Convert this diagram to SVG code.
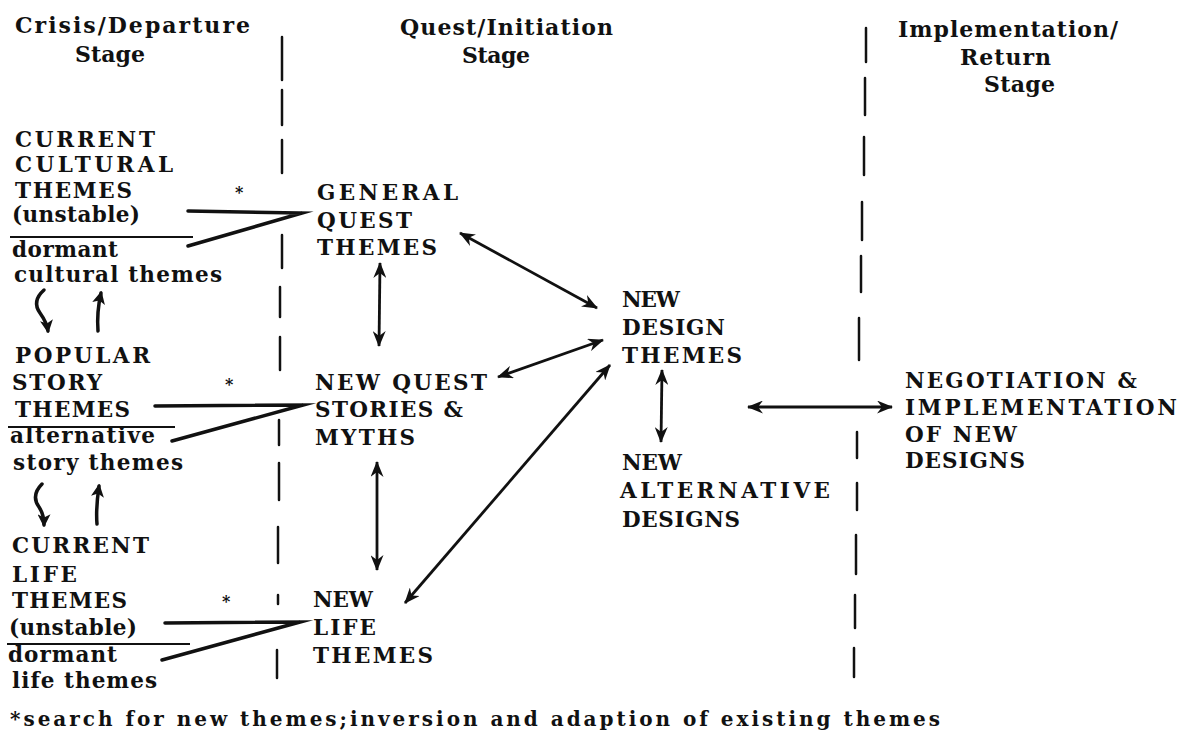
<svg xmlns="http://www.w3.org/2000/svg" width="1200" height="749" viewBox="0 0 1200 749">
<style>
  .bg { fill: #ffffff; }
  text { font-family: "DejaVu Serif", "Liberation Serif", serif; fill: #111; }
  .hd { font-size: 22px; font-weight: bold; }
  .tx { font-size: 21.5px; font-weight: bold; }
  .fn { font-size: 20px; font-weight: bold; }
  .ast { font-size: 16px; font-weight: bold; }
  .div { stroke: #111; stroke-width: 2.5; fill: none; stroke-linecap: round; }
  .rule { stroke: #111; stroke-width: 2.2; fill: none; }
  .fork { stroke: #111; stroke-width: 3.5; fill: none; stroke-linejoin: miter; stroke-miterlimit: 20; stroke-linecap: round; }
  .arr { stroke: #111; stroke-width: 2.8; fill: none; marker-start: url(#ah); marker-end: url(#ah); }
  .curl { stroke: #111; stroke-width: 3.5; fill: none; marker-end: url(#ah2); stroke-linecap: round; }
</style>
<defs>
  <marker id="ah" viewBox="0 0 16 13" refX="15" refY="6.5" markerWidth="17" markerHeight="13" markerUnits="userSpaceOnUse" orient="auto-start-reverse">
    <path d="M0,0 L16,6.5 L0,13 L5,6.5 z" fill="#111"/>
  </marker>
  <marker id="ah2" viewBox="0 0 12 12" refX="10" refY="6" markerWidth="13" markerHeight="13" markerUnits="userSpaceOnUse" orient="auto">
    <path d="M0,0 L12,6 L0,12 L3,6 z" fill="#111"/>
  </marker>
</defs>
<rect class="bg" x="0" y="0" width="1200" height="749"/>

<g id="stage-dividers">
  <path class="div" d="M282,37 V80 M282,90 V125 M282,140 V173 M282,235 V268 M280,287 V317 M280,337 V370 M279,420 V445 M279,463 V500 M278,527 V563 M278,595 V604 M277,650 V678"/>
  <path class="div" d="M866,28 V62 M865,78 V115 M864,137 V175 M862,202 V240 M861,256 V292 M859,318 V360 M857,432 V458 M857,483 V510 M856,535 V574 M855,595 V628 M854,648 V677"/>
</g>

<g id="heading-crisis">
  <text class="hd" x="15" y="33" textLength="235">Crisis/Departure</text>
  <text class="hd" x="75" y="62" textLength="70">Stage</text>
</g>
<g id="heading-quest">
  <text class="hd" x="400" y="35" textLength="213">Quest/Initiation</text>
  <text class="hd" x="462" y="63" textLength="68">Stage</text>
</g>
<g id="heading-implementation">
  <text class="hd" x="898" y="37" textLength="220">Implementation/</text>
  <text class="hd" x="960" y="65" textLength="91">Return</text>
  <text class="hd" x="984" y="92" textLength="71">Stage</text>
</g>

<g id="current-cultural-themes">
  <text class="tx" x="15" y="147" textLength="140">CURRENT</text>
  <text class="tx" x="15" y="172" textLength="158">CULTURAL</text>
  <text class="tx" x="15" y="198" textLength="117">THEMES</text>
  <text class="tx" x="12" y="222" textLength="128">(unstable)</text>
  <line class="rule" x1="10" y1="237" x2="193" y2="237"/>
  <text class="tx" x="12" y="257" textLength="106">dormant</text>
  <text class="tx" x="14" y="282" textLength="208">cultural themes</text>
</g>

<g id="popular-story-themes">
  <text class="tx" x="15" y="363" textLength="135">POPULAR</text>
  <text class="tx" x="12" y="390" textLength="90">STORY</text>
  <text class="tx" x="15" y="417" textLength="115">THEMES</text>
  <line class="rule" x1="8" y1="427" x2="175" y2="427"/>
  <text class="tx" x="10" y="443" textLength="145">alternative</text>
  <text class="tx" x="13" y="470" textLength="170">story themes</text>
</g>

<g id="current-life-themes">
  <text class="tx" x="12" y="553" textLength="137">CURRENT</text>
  <text class="tx" x="12" y="582" textLength="65">LIFE</text>
  <text class="tx" x="12" y="608" textLength="115">THEMES</text>
  <text class="tx" x="9" y="635" textLength="128">(unstable)</text>
  <line class="rule" x1="7" y1="644" x2="190" y2="644"/>
  <text class="tx" x="8" y="662" textLength="109">dormant</text>
  <text class="tx" x="12" y="688" textLength="145">life themes</text>
</g>

<g id="general-quest-themes">
  <text class="tx" x="317" y="200" textLength="141">GENERAL</text>
  <text class="tx" x="317" y="228" textLength="95">QUEST</text>
  <text class="tx" x="317" y="255" textLength="120">THEMES</text>
</g>

<g id="new-quest-stories">
  <text class="tx" x="315" y="390" textLength="172">NEW QUEST</text>
  <text class="tx" x="315" y="417" textLength="148">STORIES &amp;</text>
  <text class="tx" x="315" y="445" textLength="100">MYTHS</text>
</g>

<g id="new-life-themes">
  <text class="tx" x="313" y="607" textLength="60">NEW</text>
  <text class="tx" x="313" y="635" textLength="63">LIFE</text>
  <text class="tx" x="313" y="663" textLength="120">THEMES</text>
</g>

<g id="new-design-themes">
  <text class="tx" x="622" y="307" textLength="58">NEW</text>
  <text class="tx" x="622" y="335" textLength="103">DESIGN</text>
  <text class="tx" x="622" y="363" textLength="120">THEMES</text>
</g>

<g id="new-alternative-designs">
  <text class="tx" x="622" y="470" textLength="60">NEW</text>
  <text class="tx" x="620" y="498" textLength="210">ALTERNATIVE</text>
  <text class="tx" x="622" y="527" textLength="118">DESIGNS</text>
</g>

<g id="negotiation-implementation">
  <text class="tx" x="905" y="388" textLength="232">NEGOTIATION &amp;</text>
  <text class="tx" x="905" y="415" textLength="272">IMPLEMENTATION</text>
  <text class="tx" x="905" y="442" textLength="112">OF NEW</text>
  <text class="tx" x="905" y="468" textLength="120">DESIGNS</text>
</g>

<g id="connectors">
  <polyline class="fork" points="188,211 302,213 188,246"/>
  <polyline class="fork" points="155,406 303,405 172,441"/>
  <polyline class="fork" points="165,623 300,622 162,660"/>
  <line class="arr" x1="460" y1="233" x2="597" y2="308"/>
  <line class="arr" x1="498" y1="377" x2="603" y2="340"/>
  <line class="arr" x1="405" y1="603" x2="610" y2="365"/>
  <line class="arr" x1="380" y1="263" x2="379" y2="346"/>
  <line class="arr" x1="377" y1="462" x2="377" y2="570"/>
  <line class="arr" x1="662" y1="370" x2="661" y2="442"/>
  <line class="arr" x1="748" y1="407" x2="892" y2="407"/>
  <path class="curl" d="M44,290 C35,298 35,306 40,313 C45,320 47,324 48,331"/>
  <path class="curl" d="M98,331 C97,318 98,306 101,293"/>
  <path class="curl" d="M42,484 C34,492 34,500 39,507 C43,513 44,518 44,525"/>
  <path class="curl" d="M97,524 C96,512 97,500 99,486"/>
</g>

<g id="connector-labels">
  <text class="ast" x="235" y="198">*</text>
  <text class="ast" x="225" y="390">*</text>
  <text class="ast" x="222" y="607">*</text>
</g>

<g id="footnote">
  <text class="fn" x="10" y="726" textLength="930">*search for new themes;inversion and adaption of existing themes</text>
</g>
</svg>
